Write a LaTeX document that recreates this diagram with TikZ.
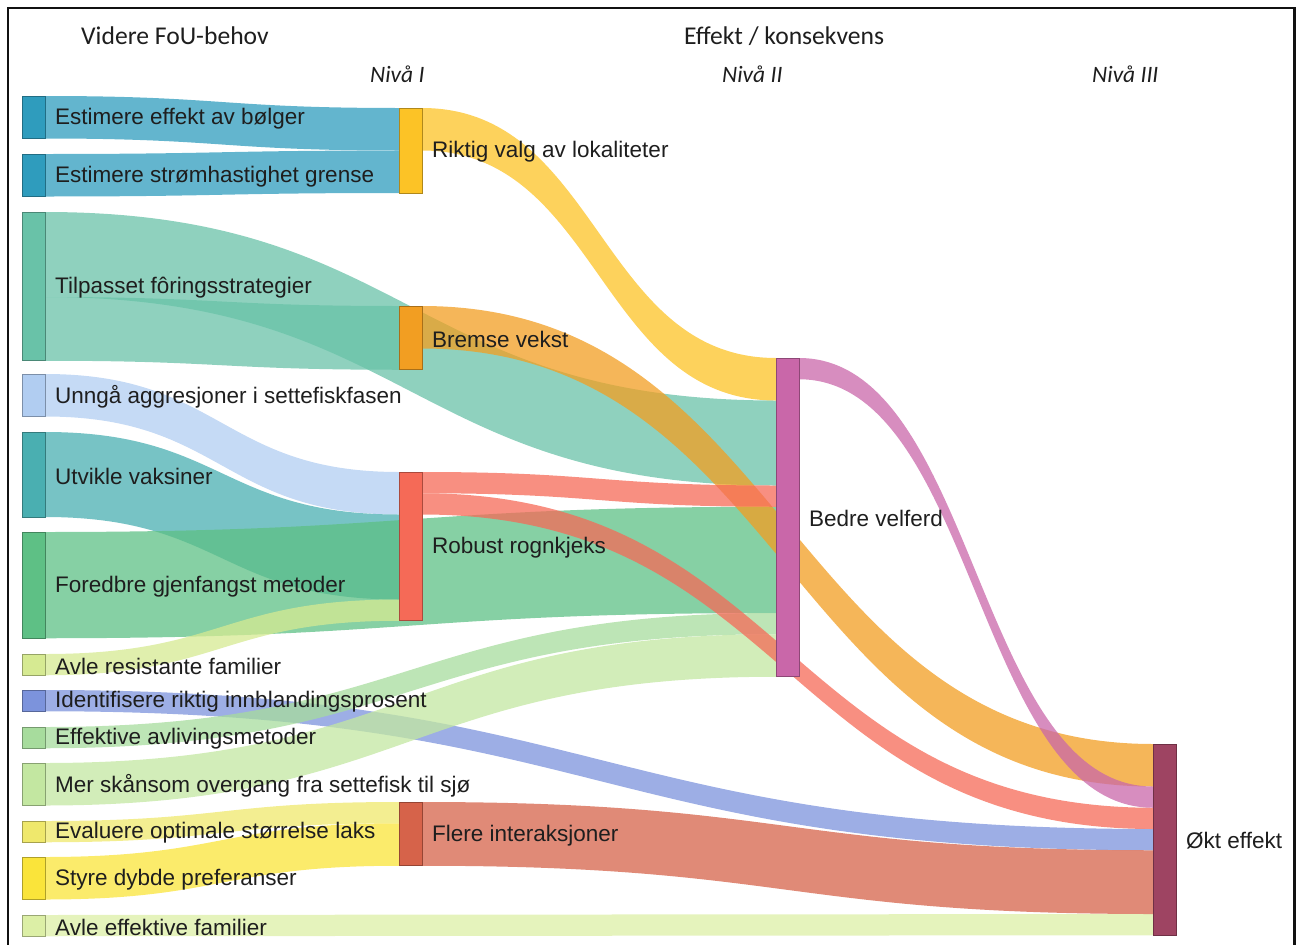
\documentclass[tikz,border=0pt]{standalone}
\usepackage{fontspec}
\setmainfont{Liberation Sans}
\newfontfamily\headfont{Carlito}
\usetikzlibrary{positioning, calc}
\definecolor{inktext}{HTML}{1E1E1E}
\definecolor{inkframe}{HTML}{111111}
\definecolor{inkbolge}{HTML}{2F9CBD}
\definecolor{inkfor}{HTML}{69C2A8}
\definecolor{inkaggr}{HTML}{B1CDF1}
\definecolor{inkvaks}{HTML}{4AAFB1}
\definecolor{inkgjen}{HTML}{5EC085}
\definecolor{inkresist}{HTML}{D6EA92}
\definecolor{inkinnbl}{HTML}{7C93DC}
\definecolor{inkavliv}{HTML}{A7DC9D}
\definecolor{inkoverg}{HTML}{C3E7A1}
\definecolor{inkstorr}{HTML}{EFE86C}
\definecolor{inkdybde}{HTML}{FAE43A}
\definecolor{inkavle}{HTML}{DCEFA6}
\definecolor{inklok}{HTML}{FCC326}
\definecolor{inkvekst}{HTML}{F29E22}
\definecolor{inkrobust}{HTML}{F56A57}
\definecolor{inkinter}{HTML}{D6634A}
\definecolor{inkvelferd}{HTML}{C967A9}
\definecolor{inkeffekt}{HTML}{9E4462}
\pgfdeclarelayer{bands}
\pgfsetlayers{bands,main}
\newcommand{\flowunit}{21.25}
% colour, from, offset, to, offset, width (in flow units)
\newcommand{\band}[6]{%
  \fill[#1, fill opacity=0.75]
    let \p1=($(#2.north east)+(0,#3*\flowunit)$),
        \p2=($(#4.north west)+(0,#5*\flowunit)$),
        \p3=($(#2.north east)+(0,#3*\flowunit+#6*\flowunit)$),
        \p4=($(#4.north west)+(0,#5*\flowunit+#6*\flowunit)$),
        \p5=($(\p1)!0.5!(\p2)$) in
    (\p1) .. controls (\x5,\y1) and (\x5,\y2) .. (\p2) -- (\p4)
    .. controls (\x5,\y4) and (\x5,\y3) .. (\p3) -- cycle;}

\begin{document}
\begin{tikzpicture}[x=1pt, y=-1pt,
    flowbar/.style={draw=#1!70!black, fill=#1, line width=0.8pt,
                    anchor=north west, minimum width=23pt,
                    inner sep=0pt, outer sep=0pt},
    lbl/.style={font=\fontsize{22.5}{26}\selectfont, text=inktext,
                inner sep=0pt, yshift=-1.5pt},
    hd/.style={font=\headfont\fontsize{25.6}{30}\selectfont, text=inktext,
               inner sep=0pt, anchor=west},
    lvl/.style={font=\headfont\itshape\fontsize{23.5}{28}\selectfont, text=inktext,
                inner sep=0pt, anchor=west}]
  \useasboundingbox (0,0) rectangle (1304,945);
  \draw[line width=2.5pt, inkframe] (8,945) -- (8,8) -- (1294.7,8) -- (1294.7,945);

  \node[hd] (hfou) at (81,36) {Videre FoU-behov};
  \node[hd] (heffekt) at (684,36) {Effekt / konsekvens};
  \node[lvl] (niva1) at (370,74) {Nivå I};
  \node[lvl] (niva2) at (722,74) {Nivå II};
  \node[lvl] (niva3) at (1092,74) {Nivå III};

  % research needs
  \foreach \nm/\ytop/\sz/\col/\txt in {
      bolge/96/2/inkbolge/Estimere effekt av bølger,
      strom/154/2/inkbolge/Estimere strømhastighet grense,
      foring/212/7/inkfor/Tilpasset fôringsstrategier,
      aggr/374/2/inkaggr/Unngå aggresjoner i settefiskfasen,
      vaks/432/4/inkvaks/Utvikle vaksiner,
      gjen/532/5/inkgjen/Foredbre gjenfangst metoder,
      resist/654/1/inkresist/Avle resistante familier,
      innbl/690/1/inkinnbl/Identifisere riktig innblandingsprosent,
      avliv/727/1/inkavliv/Effektive avlivingsmetoder,
      overg/763/2/inkoverg/Mer skånsom overgang fra settefisk til sjø,
      storr/821/1/inkstorr/Evaluere optimale størrelse laks,
      dybde/857/2/inkdybde/Styre dybde preferanser,
      avle/915/1/inkavle/Avle effektive familier}{%
    \node[flowbar=\col, minimum height=\sz*\flowunit] (\nm) at (22,\ytop) {};}

  % level I
  \foreach \nm/\ytop/\sz/\col in {lok/108/4/inklok, vekst/306/3/inkvekst,
      robust/472/7/inkrobust, inter/802/3/inkinter}{%
    \node[flowbar=\col, minimum height=\sz*\flowunit] (\nm) at (399,\ytop) {};}

  % level II and III
  \node[flowbar=inkvelferd, minimum height=15*\flowunit] (velferd) at (776,358) {};
  \node[flowbar=inkeffekt, minimum height=9*\flowunit] (effekt) at (1153,744) {};

  \begin{pgfonlayer}{bands}
    \foreach \col/\a/\i/\b/\j/\w in {
        inkbolge/bolge/0/lok/0/2, inkbolge/strom/0/lok/2/2,
        inkfor/foring/0/velferd/2/4, inkfor/foring/4/vekst/0/3,
        inkaggr/aggr/0/robust/0/2, inkvaks/vaks/0/robust/2/4,
        inkgjen/gjen/0/velferd/7/5, inkresist/resist/0/robust/6/1,
        inkinnbl/innbl/0/effekt/4/1, inkavliv/avliv/0/velferd/12/1,
        inkoverg/overg/0/velferd/13/2, inkstorr/storr/0/inter/0/1,
        inkdybde/dybde/0/inter/1/2, inkavle/avle/0/effekt/8/1,
        inklok/lok/0/velferd/0/2, inkvekst/vekst/0/effekt/0/2,
        inkrobust/robust/0/velferd/6/1, inkrobust/robust/1/effekt/3/1,
        inkvelferd/velferd/0/effekt/2/1, inkinter/inter/0/effekt/5/3}{%
      \band{\col}{\a}{\i}{\b}{\j}{\w}}
  \end{pgfonlayer}

  % labels
  \foreach \nm/\txt in {
      bolge/Estimere effekt av bølger,
      strom/Estimere strømhastighet grense,
      foring/Tilpasset fôringsstrategier,
      aggr/Unngå aggresjoner i settefiskfasen,
      vaks/Utvikle vaksiner,
      gjen/Foredbre gjenfangst metoder,
      resist/Avle resistante familier,
      innbl/Identifisere riktig innblandingsprosent,
      avliv/Effektive avlivingsmetoder,
      overg/Mer skånsom overgang fra settefisk til sjø,
      storr/Evaluere optimale størrelse laks,
      dybde/Styre dybde preferanser,
      avle/Avle effektive familier,
      lok/Riktig valg av lokaliteter,
      vekst/Bremse vekst,
      robust/Robust rognkjeks,
      inter/Flere interaksjoner,
      velferd/Bedre velferd,
      effekt/Økt effekt}{%
    \node[lbl, right=10pt of \nm] (t\nm) {\txt};}
\end{tikzpicture}
\end{document}
